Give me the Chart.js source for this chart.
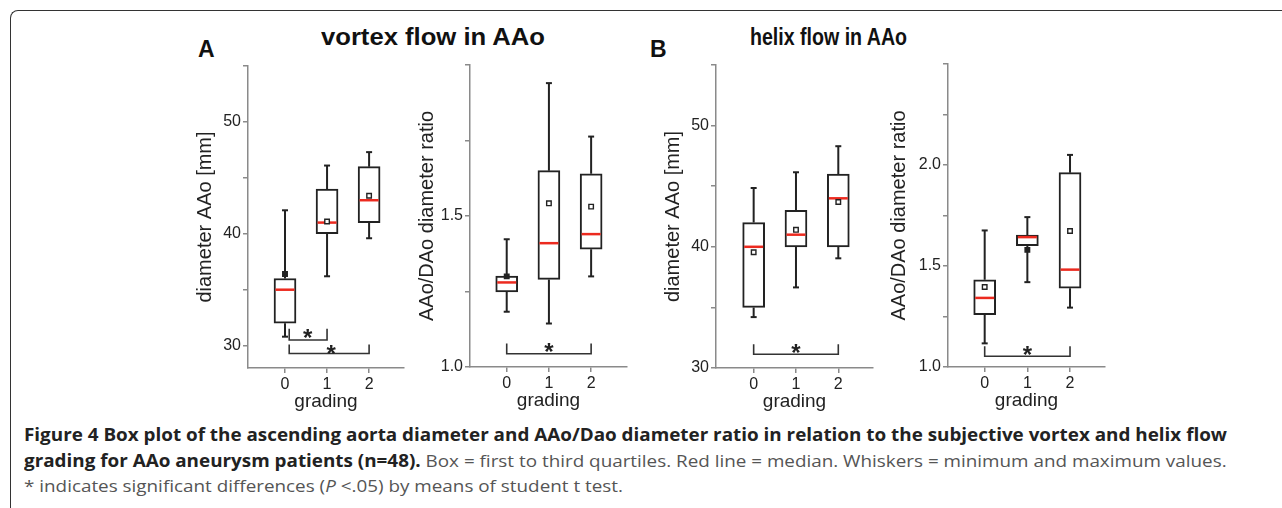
<!DOCTYPE html>
<html>
<head>
<meta charset="utf-8">
<script src="https://cdn.jsdelivr.net/npm/chart.js@4.4.0/dist/chart.umd.min.js"></script>
<style>
  body { margin: 0; background: #fff; width: 1282px; height: 508px; overflow: hidden; position: relative; font-family: "Liberation Sans", Arial, sans-serif; }
  .frame { position: absolute; left: 10px; top: 10px; width: 1300px; height: 520px; border-left: 1.5px solid #333; border-top: 1.5px solid #333; border-top-left-radius: 8px; }
  canvas { position: absolute; }
  .hd { position: absolute; font-weight: bold; color: #111; white-space: nowrap; line-height: 1; font-size: 23px; transform-origin: 0 50%; }
  .cap { position: absolute; left: 24px; white-space: nowrap; line-height: 1; font-family: "Open Sans", sans-serif; font-size: 17px; color: #555; transform-origin: 0 50%; }
  .cap b { color: #222; }
</style>
</head>
<body>
<div class="frame"></div>
<div class="hd" style="left:198px;top:38px">A</div>
<div class="hd" id="t1" style="left:321px;top:25.5px">vortex flow in AAo</div>
<div class="hd" style="left:650px;top:38px">B</div>
<div class="hd" id="t2" style="left:750px;top:25.5px">helix flow in AAo</div>

<canvas id="p1" width="223" height="362" style="left:193px;top:51px"></canvas>
<canvas id="p2" width="224" height="362" style="left:415px;top:50px"></canvas>
<canvas id="p3" width="224" height="363" style="left:661px;top:50px"></canvas>
<canvas id="p4" width="230" height="363" style="left:887px;top:49px"></canvas>

<div class="cap" id="c1" style="top:426px"><b>Figure 4 Box plot of the ascending aorta diameter and AAo/Dao diameter ratio in relation to the subjective vortex and helix flow</b></div>
<div class="cap" id="c2" style="top:452px"><b>grading for AAo aneurysm patients (n=48).</b> Box = first to third quartiles. Red line = median. Whiskers = minimum and maximum values.</div>
<div class="cap" id="c3" style="top:477px">* indicates significant differences (<i>P</i> &lt;.05) by means of student t test.</div>

<script>
const gradeCats = [0, 1, 2];
const gradeLabels = ['0', '1', '2'];

// A - vortex flow, AAo diameter [mm]
const vortexDiamMin = [30.8, 36.2, 39.6];
const vortexDiamQ1 = [32.0, 40.0, 41.0];
const vortexDiamMed = [35.0, 41.0, 43.0];
const vortexDiamQ3 = [36.0, 44.0, 46.0];
const vortexDiamMax = [42.1, 46.1, 47.3];
const vortexDiamMean = [36.4, 41.1, 43.4];
const vortexDiamSig = [[0.1, 1, 30.5, 31.5], [0.1, 2, 29.3, 30.1]]; // from, to, line, ends
const vortexDiamStars = [[0.54, 31.25], [1.1, 29.75]];

// A - vortex flow, AAo/DAo ratio
const vortexRatioMin = [1.183, 1.144, 1.30];
const vortexRatioQ1 = [1.249, 1.29, 1.39];
const vortexRatioMed = [1.28, 1.41, 1.44];
const vortexRatioQ3 = [1.301, 1.65, 1.64];
const vortexRatioMax = [1.423, 1.94, 1.763];
const vortexRatioMean = [1.30, 1.542, 1.531];
const vortexRatioSig = [[0, 2, 1.044, 1.078]];
const vortexRatioStars = [[1, 1.069]];

// B - helix flow, AAo diameter [mm]
const helixDiamMin = [34.2, 36.65, 39.05];
const helixDiamQ1 = [35.0, 40.0, 40.0];
const helixDiamMed = [40.0, 41.0, 44.0];
const helixDiamQ3 = [42.0, 43.0, 46.0];
const helixDiamMax = [44.85, 46.15, 48.3];
const helixDiamMean = [39.55, 41.4, 43.7];
const helixDiamSig = [[0, 2, 31.13, 31.96]];
const helixDiamStars = [[1, 31.74]];

// B - helix flow, AAo/DAo ratio
const helixRatioMin = [1.117, 1.42, 1.294];
const helixRatioQ1 = [1.259, 1.601, 1.39];
const helixRatioMed = [1.342, 1.643, 1.482];
const helixRatioQ3 = [1.432, 1.653, 1.962];
const helixRatioMax = [1.676, 1.742, 2.05];
const helixRatioMean = [1.396, 1.58, 1.673];
const helixRatioSig = [[0, 2, 1.053, 1.103]];
const helixRatioStars = [[1, 1.087]];

// y ticks (blank label = minor tick)
const diamTicks = [30, 35, 40, 45, 50, 55];
const diamTickLabels = ['30', '', '40', '', '50', ''];
const ratioTicksA = [1.0, 1.25, 1.5, 1.75, 2.0];
const ratioTickLabelsA = ['1.0', '', '1.5', '', ''];
const ratioTicksB = [1.0, 1.25, 1.5, 1.75, 2.0, 2.25, 2.5];
const ratioTickLabelsB = ['1.0', '', '1.5', '', '2.0', '', ''];

const FONT = '"Liberation Sans", Arial, sans-serif';
const INK = '#222';
const AXIS = '#8a8a8a';
const RED = '#ec2a1f';

// asterisks above the significance brackets
const starPlugin = {
  id: 'stars',
  afterDatasetsDraw(chart, args, opts) {
    const {ctx, scales} = chart;
    ctx.save();
    ctx.font = 'bold 24px ' + FONT;
    ctx.fillStyle = INK;
    ctx.textAlign = 'center';
    ctx.textBaseline = 'alphabetic';
    (opts.points || []).forEach(p => {
      ctx.fillText('*', scales.x.getPixelForValue(p[0]), scales.y.getPixelForValue(p[1]) + 14);
    });
    ctx.restore();
  }
};

function boxPanel(id, s, cfg) {
  const pts = arr => gradeCats.map((c, i) => ({x: c, y: arr[i]}));
  const whisk = [];
  gradeCats.forEach((c, i) => {
    whisk.push({x: c, y: s.max[i]}, {x: c, y: s.q3[i]}, {x: c, y: null},
               {x: c, y: s.q1[i]}, {x: c, y: s.min[i]}, {x: c, y: null});
  });
  const brk = [];
  cfg.sig.forEach(b => {
    brk.push({x: b[0], y: b[3]}, {x: b[0], y: b[2]}, {x: b[1], y: b[2]}, {x: b[1], y: b[3]}, {x: b[1], y: null});
  });
  // mean marker sitting on a whisker / box edge looks solid in the figure
  const eps = (cfg.yMax - cfg.yMin) * 0.005;
  const meanFill = c => {
    const i = c.dataIndex, m = s.mean[i];
    return (m > s.q3[i] - eps || m < s.q1[i] + eps) ? INK : '#fff';
  };
  const axisGrid = {display: true, drawOnChartArea: false, drawTicks: true, tickLength: 5, color: AXIS, lineWidth: 1.5};

  new Chart(document.getElementById(id), {
    type: 'bar',
    data: {
      datasets: [{
        type: 'bar',
        data: gradeCats.map((c, i) => ({x: c, y: [s.q1[i], s.q3[i]]})),
        backgroundColor: '#fff',
        borderColor: INK,
        borderWidth: 2,
        borderSkipped: false,
        barThickness: 22,
        order: 5
      }, {
        type: 'line',
        data: pts(s.med),
        showLine: false,
        pointStyle: 'line',
        pointRadius: 9.5,
        pointBorderColor: RED,
        pointBorderWidth: 2.5,
        order: 4
      }, {
        type: 'line',
        data: pts(s.mean),
        showLine: false,
        pointStyle: 'rect',
        pointRadius: 3.2,
        pointBackgroundColor: meanFill,
        pointBorderColor: INK,
        pointBorderWidth: 1.4,
        order: 3
      }, {
        type: 'line',
        data: whisk,
        borderColor: INK,
        borderWidth: 2,
        spanGaps: false,
        pointStyle: 'line',
        pointRadius: c => (c.index % 6 === 0 || c.index % 6 === 4) ? 3 : 0,
        pointBorderColor: INK,
        pointBorderWidth: 2,
        order: 2
      }, {
        type: 'line',
        data: brk,
        borderColor: '#333',
        borderWidth: 1.6,
        spanGaps: false,
        pointRadius: 0,
        order: 1
      }]
    },
    options: {
      responsive: false,
      animation: false,
      events: [],
      layout: {padding: {top: 15, right: 5, left: 0, bottom: 0}},
      plugins: {legend: {display: false}, tooltip: {enabled: false}, stars: {points: cfg.stars}},
      scales: {
        x: {
          type: 'linear', min: cfg.xMin, max: cfg.xMax, offset: false,
          afterBuildTicks: sc => { sc.ticks = gradeCats.map(v => ({value: v})); },
          afterFit: sc => { sc.height = 45; },
          ticks: {callback: (v, i) => gradeLabels[i], font: {family: FONT, size: 16}, color: INK, padding: 2, autoSkip: false, maxRotation: 0},
          grid: Object.assign({offset: false}, axisGrid),
          border: {display: true, color: AXIS, width: 1.5},
          title: {display: true, text: 'grading', font: {family: FONT, size: 19}, color: INK, padding: 0}
        },
        y: {
          type: 'linear', min: cfg.yMin, max: cfg.yMax,
          afterBuildTicks: sc => { sc.ticks = cfg.ticks.map(v => ({value: v})); },
          afterFit: sc => { sc.width = cfg.yWidth; },
          ticks: {callback: (v, i) => cfg.tickLabels[i], font: {family: FONT, size: 16}, color: INK, padding: 2, autoSkip: false},
          grid: axisGrid,
          border: {display: true, color: AXIS, width: 1.5},
          title: {display: true, text: cfg.title, font: {family: FONT, size: 20}, color: INK, padding: 0}
        }
      }
    },
    plugins: [starPlugin]
  });
}

boxPanel('p1',
  {min: vortexDiamMin, q1: vortexDiamQ1, med: vortexDiamMed, q3: vortexDiamQ3, max: vortexDiamMax, mean: vortexDiamMean},
  {sig: vortexDiamSig, stars: vortexDiamStars, ticks: diamTicks, tickLabels: diamTickLabels,
   yMin: 28, yMax: 55, xMin: -0.88, xMax: 2.83, yWidth: 55, title: 'diameter AAo [mm]'});

boxPanel('p2',
  {min: vortexRatioMin, q1: vortexRatioQ1, med: vortexRatioMed, q3: vortexRatioQ3, max: vortexRatioMax, mean: vortexRatioMean},
  {sig: vortexRatioSig, stars: vortexRatioStars, ticks: ratioTicksA, tickLabels: ratioTickLabelsA,
   yMin: 1.0, yMax: 2.0, xMin: -0.87, xMax: 2.85, yWidth: 55, title: 'AAo/DAo diameter ratio'});

boxPanel('p3',
  {min: helixDiamMin, q1: helixDiamQ1, med: helixDiamMed, q3: helixDiamQ3, max: helixDiamMax, mean: helixDiamMean},
  {sig: helixDiamSig, stars: helixDiamStars, ticks: diamTicks, tickLabels: diamTickLabels,
   yMin: 30, yMax: 55, xMin: -0.89, xMax: 2.82, yWidth: 55, title: 'diameter AAo [mm]'});

boxPanel('p4',
  {min: helixRatioMin, q1: helixRatioQ1, med: helixRatioMed, q3: helixRatioQ3, max: helixRatioMax, mean: helixRatioMean},
  {sig: helixRatioSig, stars: helixRatioStars, ticks: ratioTicksB, tickLabels: ratioTickLabelsB,
   yMin: 1.0, yMax: 2.5, xMin: -0.86, xMax: 2.82, yWidth: 61, title: 'AAo/DAo diameter ratio'});

// squeeze header and caption text to the widths in the figure
function fitTo(el, target) {
  const w = el.getBoundingClientRect().width;
  el.style.transform = 'scaleX(' + (target / w) + ')';
  return target / w;
}
fitTo(document.getElementById('t1'), 224);
fitTo(document.getElementById('t2'), 157);
const k = fitTo(document.getElementById('c1'), 1203);
['c2', 'c3'].forEach(id => { document.getElementById(id).style.transform = 'scaleX(' + k + ')'; });
</script>
</body>
</html>
